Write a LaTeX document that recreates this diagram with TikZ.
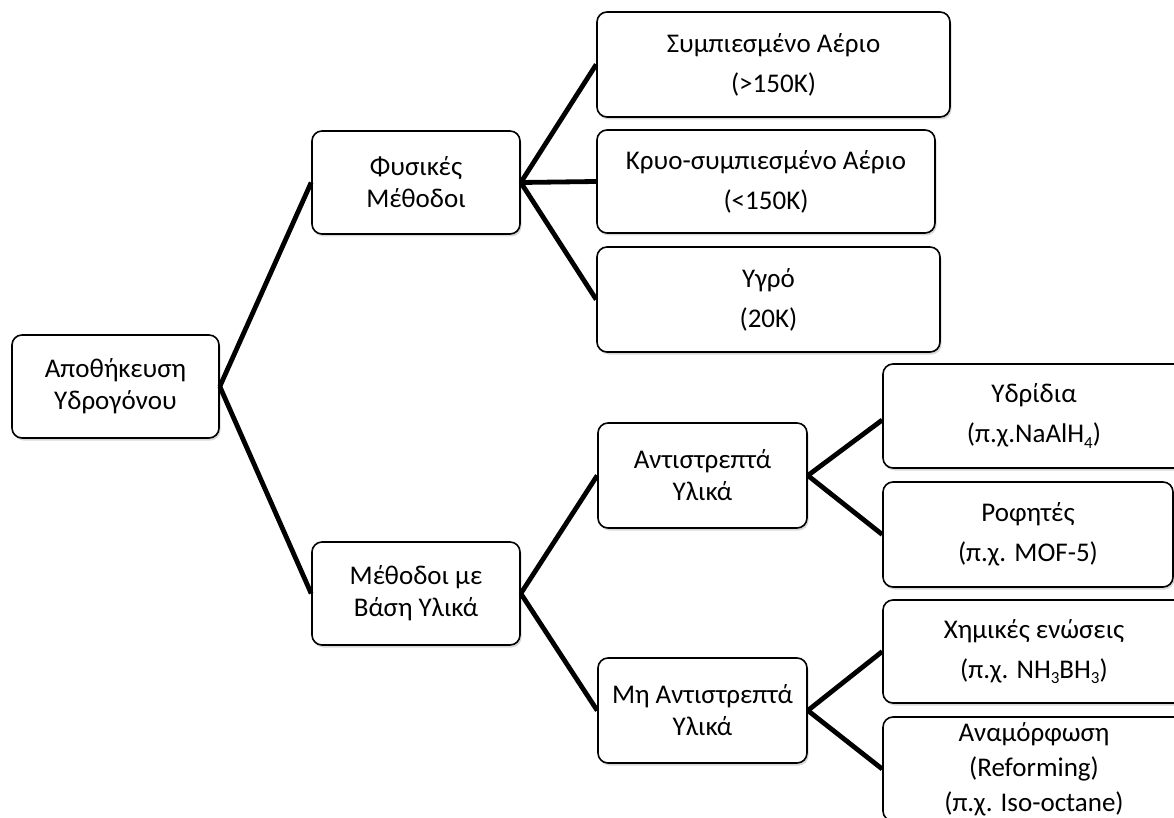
\documentclass[tikz,border=0pt]{standalone}
\usepackage{fontspec}
\setmainfont{Carlito}
\usepackage{tikz}
\usetikzlibrary{shadows}
\newcommand{\chemsub}[1]{\raisebox{-0.45ex}{\fontsize{17}{17}\selectfont #1}}

\begin{document}
\begin{tikzpicture}[x=1pt,y=-1pt,line width=4.8pt,
                    font=\fontsize{27}{32}\selectfont]
  \tikzstyle{box}=[draw,line width=1.6pt,rounded corners=10pt,fill=white,
                   align=center,inner sep=0pt,
                   drop shadow={shadow xshift=1.5pt,shadow yshift=-2.5pt,opacity=0.3}]
  \path[use as bounding box,clip] (0,0) rectangle (1174,818);

  \node[box,minimum width=207pt,minimum height=103pt] (R) at (115.5,386.5) {Αποθήκευση\\Υδρογόνου};
  \node[box,minimum width=208pt,minimum height=103pt] (F) at (416,182.5)   {Φυσικές\\Μέθοδοι};
  \node[box,minimum width=208pt,minimum height=103pt] (M) at (416,593.5)   {Μέθοδοι με\\Βάση Υλικά};
  \node[box,minimum width=353pt,minimum height=105pt] (SA) at (773.5,64.5) {Συμπιεσμένο Αέριο\\[8pt](>150K)};
  \node[box,minimum width=338pt,minimum height=103pt] (KA) at (766,181.5)  {Κρυο-συμπιεσμένο Αέριο\\[8pt](<150K)};
  \node[box,minimum width=343pt,minimum height=105pt] (Y)  at (768.5,299.5) {Υγρό\\[8pt](20K)};
  \node[box,minimum width=209pt,minimum height=105pt] (A)  at (702.5,475.5) {Αντιστρεπτά\\Υλικά};
  \node[box,minimum width=209pt,minimum height=105pt] (N)  at (702.5,710.5) {Μη Αντιστρεπτά\\Υλικά};
  \node[box,minimum width=302pt,minimum height=104pt] (H)  at (1034,416)   {Υδρίδια\\[8pt](π.χ.NaAlH\chemsub{4})};
  \node[box,minimum width=290pt,minimum height=105pt] (S)  at (1028,534.5) {Ροφητές\\[8pt](π.χ. MOF-5)};
  \node[box,minimum width=302pt,minimum height=103pt] (C)  at (1034,651.5) {Χημικές ενώσεις\\[8pt](π.χ. NH\chemsub{3}BH\chemsub{3})};
  \node[box,minimum width=302pt,minimum height=104pt] (RF) at (1034,769)   {Αναμόρφωση\\[3pt](Reforming)\\[3pt](π.χ. Iso-octane)};

  \path (R.east) edge (F.west)
                 edge (M.west)
        (F.east) edge (SA.west)
                 edge (KA.west)
                 edge (Y.west)
        (M.east) edge (A.west)
                 edge (N.west)
        (A.east) edge ([yshift=-4pt]H.west)
                 edge (S.west)
        (N.east) edge (C.west)
                 edge (RF.west)
;
\end{tikzpicture}
\end{document}
